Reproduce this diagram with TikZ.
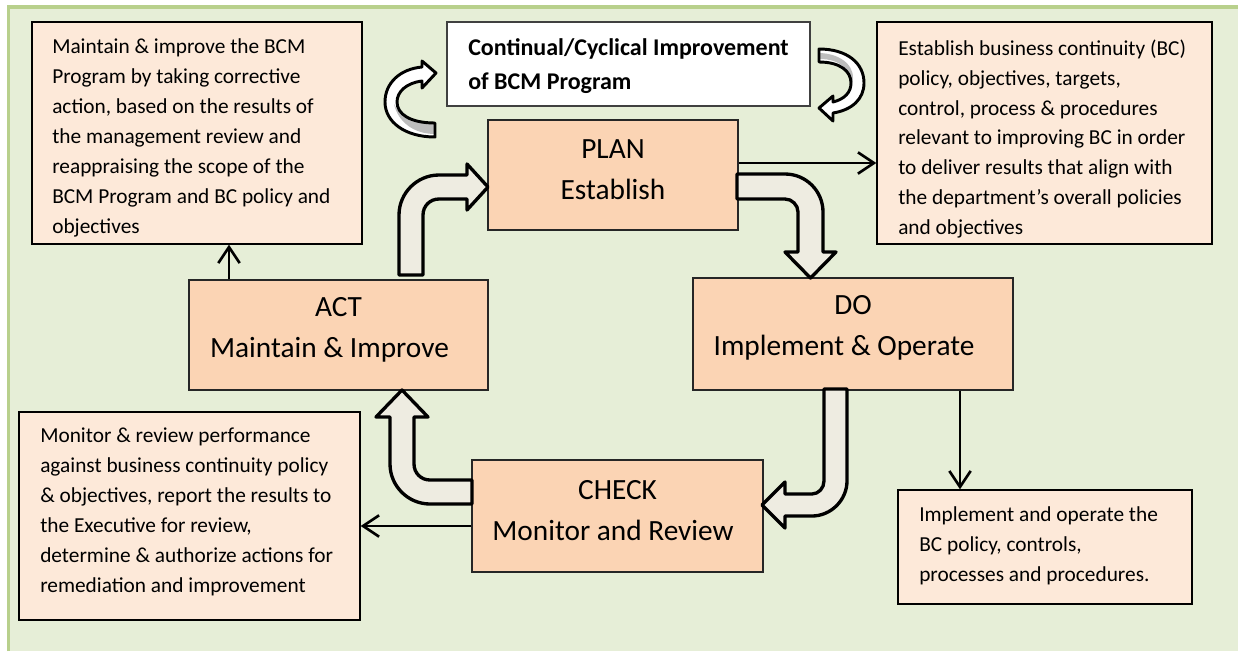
\documentclass[tikz,border=0pt]{standalone}
\usepackage{fontspec}
\setmainfont{Carlito}
\usetikzlibrary{arrows.meta,calc}
\definecolor{pagebg}{HTML}{E6EED7}
\definecolor{frameline}{HTML}{B8D08C}
\definecolor{phasefill}{HTML}{FBD4B4}
\definecolor{notefill}{HTML}{FDE9D9}
\definecolor{flowfill}{HTML}{EEECE1}
\definecolor{shadegray}{HTML}{BDBDBD}
\begin{document}
\begin{tikzpicture}[x=0.75pt,y=-0.75pt,
  phasebox/.style={draw=black!85, line width=0.8pt, fill=phasefill, inner sep=0pt},
  notebox/.style={draw=black, line width=1pt, fill=notefill, inner sep=0pt},
  titlebox/.style={draw=black!75, line width=1.2pt, fill=white, inner sep=0pt},
  phasetext/.style={font=\fontsize{22pt}{30.75pt}\selectfont, align=center, inner sep=0pt},
  notetext/.style={font=\fontsize{16pt}{22.4pt}\selectfont, align=left, inner sep=0pt, anchor=west},
  titletext/.style={font=\bfseries\fontsize{18pt}{25.5pt}\selectfont, align=left, inner sep=0pt, anchor=west},
  flow/.style={draw=black, line width=2.5pt, line join=round, fill=flowfill},
  link/.style={draw=black, line width=2pt, -{Straight Barb[length=12pt,width=16pt,line width=2pt]}}
]
\useasboundingbox (0,0) rectangle (1238,651);

% page background with its green frame on the top and left
\fill[pagebg] (8.5,7) rectangle (1238,651);
\draw[frameline, line width=2.3pt] (8.5,651) -- (8.5,7) -- (1238,7);

% the four phases
\node[phasebox, minimum width=187.5pt, minimum height=82.5pt] (plan) at (613,175) {};
\node[phasebox, minimum width=224.25pt, minimum height=82.5pt] (act) at (338.5,335) {};
\node[phasebox, minimum width=240pt, minimum height=84pt] (do) at (853,334) {};
\node[phasebox, minimum width=218.25pt, minimum height=84pt] (check) at (617.5,516) {};
\node[phasetext] (plan-t) at (613,169.5) {PLAN\\Establish};
\node[phasetext] (act-t) at (338.5,329.5) {ACT\\Maintain \& Improve\hspace*{13.5pt}};
\node[phasetext] (do-t) at (853,328) {DO\\Implement \& Operate\hspace*{13.5pt}};
\node[phasetext] (check-t) at (617.5,510.5) {CHECK\\Monitor and Review\hspace*{6.75pt}};

% description boxes
\node[notebox, minimum width=247.5pt, minimum height=166.5pt] (actnote) at (197,133) {};
\node[notetext] (actnote-t) at (52,138) {Maintain \& improve the BCM\\Program by taking corrective\\action, based on the results of\\the management review and\\reappraising the scope of the\\BCM Program and BC policy and\\objectives};

\node[notebox, minimum width=251.25pt, minimum height=166.5pt] (plannote) at (1044.5,133) {};
\node[notetext] (plannote-t) at (898,139) {Establish business continuity (BC)\\policy, objectives, targets,\\control, process \& procedures\\relevant to improving BC in order\\to deliver results that align with\\the department’s overall policies\\and objectives};

\node[notebox, minimum width=255.75pt, minimum height=156pt] (checknote) at (189.5,516) {};
\node[notetext] (checknote-t) at (40,512) {Monitor \& review performance\\against business continuity policy\\\& objectives, report the results to\\the Executive for review,\\determine \& authorize actions for\\remediation and improvement};

\node[notebox, minimum width=220.5pt, minimum height=85.5pt] (donote) at (1045,547) {};
\node[notetext] (donote-t) at (919,546) {Implement and operate the\\BC policy, controls,\\processes and procedures.};

\node[titlebox, minimum width=272.25pt, minimum height=63pt] (cycle) at (628.5,64) {};
\node[titletext] (cycle-t) at (468,66) {Continual/Cyclical Improvement\\of BCM Program};

% plain connectors to the description boxes
\coordinate (actx) at (229,0);
\coordinate (plany) at (0,163);
\coordinate (dox) at (960,0);
\coordinate (checky) at (0,526);
\draw[link] (act.north -| actx) -- (actnote.south -| actx);
\draw[link] (plan.east |- plany) -- (plannote.west |- plany);
\draw[link] (do.south -| dox) -- (donote.north -| dox);
\draw[link] (check.west |- checky) -- (checknote.east |- checky);

% block arrows of the cycle
\draw[flow] (399,275) -- (399,215) .. controls (399,193) and (417,175) .. (439,175)
  -- (467,175) -- (467,164) -- (488,187) -- (467,210) -- (467,199) -- (439,199)
  .. controls (430,199) and (423,206) .. (423,215) -- (423,275) -- cycle;
\draw[flow] (737,174) -- (785,174) .. controls (806,174) and (823,191) .. (823,212)
  -- (823,252) -- (836,252) -- (810.5,278) -- (785,252) -- (798,252) -- (798,212)
  .. controls (798,205) and (792,199) .. (785,199) -- (737,199) -- cycle;
\draw[flow] (824,389) -- (847,389) -- (847,481) .. controls (847,500) and (831,516) .. (812,516)
  -- (785,516) -- (785,528) -- (762,505) -- (785,482) -- (785,494) -- (812,494)
  .. controls (818.6,494) and (824,488) .. (824,481) -- cycle;
\draw[flow] (472,480) -- (430,480) .. controls (421,480) and (414,473) .. (414,464)
  -- (414,417) -- (428,417) -- (402,390) -- (376,417) -- (390,417) -- (390,464)
  .. controls (390,486) and (408,504) .. (430,504) -- (472,504) -- cycle;

% curved arrows beside the title
\fill[white] (435,137) .. controls (405,137) and (385,122) .. (385,102)
  .. controls (385,83) and (400,69) .. (422,67) -- (422,61) -- (436,73) -- (422,88) -- (422,81)
  .. controls (406,83) and (397,92) .. (397,102) .. controls (397,114) and (410,123) .. (435,123) -- cycle;
\fill[shadegray] (435,124) .. controls (410,124) and (398,114) .. (394,104)
  .. controls (398,122) and (414,134) .. (435,134) -- cycle;
\draw[draw=black, line width=2.2pt, line join=round] (435,137) .. controls (405,137) and (385,122) .. (385,102)
  .. controls (385,83) and (400,69) .. (422,67) -- (422,61) -- (436,73) -- (422,88) -- (422,81)
  .. controls (406,83) and (397,92) .. (397,102) .. controls (397,114) and (410,123) .. (435,123) -- cycle;

\fill[white] (819,49) .. controls (847,49) and (864,63) .. (864,83)
  .. controls (864,99) and (852,110) .. (833,113) -- (833,121) -- (819,108) -- (833,96) -- (833,102)
  .. controls (845,99) and (851,92) .. (851,83) .. controls (851,71) and (840,62) .. (819,62) -- cycle;
\fill[shadegray] (820,59) .. controls (840,59) and (851,70) .. (852,84)
  .. controls (857,68) and (843,54) .. (820,53) -- cycle;
\draw[draw=black, line width=2.2pt, line join=round] (819,49) .. controls (847,49) and (864,63) .. (864,83)
  .. controls (864,99) and (852,110) .. (833,113) -- (833,121) -- (819,108) -- (833,96) -- (833,102)
  .. controls (845,99) and (851,92) .. (851,83) .. controls (851,71) and (840,62) .. (819,62) -- cycle;
\end{tikzpicture}
\end{document}
